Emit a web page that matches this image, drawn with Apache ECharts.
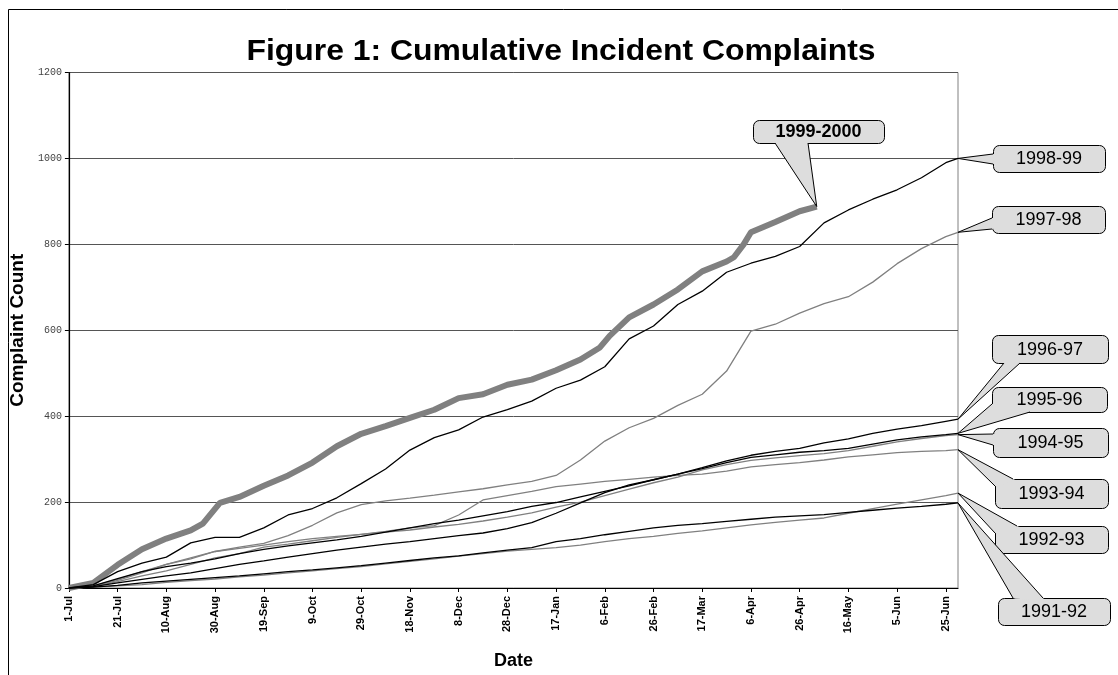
<!DOCTYPE html>
<html>
<head>
<meta charset="utf-8">
<title>Cumulative Incident Complaints</title>
<script src="https://cdn.jsdelivr.net/npm/echarts@6.0.0/dist/echarts.min.js"></script>
<style>
  html, body { margin: 0; padding: 0; background: #fff; overflow: hidden; }
  #chart { width: 1118px; height: 675px; }
</style>
</head>
<body>
<div id="chart"></div>
<script>
// day number counted from 1 July
var days = [0, 10, 20, 30, 40, 50, 60, 70, 80, 90, 100, 110, 120, 130, 140, 150, 160, 170, 180, 190,
    200, 210, 220, 230, 240, 250, 260, 270, 280, 290, 300, 310, 320, 330, 340, 350, 360, 365];

var tickLabels = ['1-Jul', '21-Jul', '10-Aug', '30-Aug', '19-Sep', '9-Oct', '29-Oct', '18-Nov', '8-Dec', '28-Dec',
    '17-Jan', '6-Feb', '26-Feb', '17-Mar', '6-Apr', '26-Apr', '16-May', '5-Jun', '25-Jun'];

// 1999-2000 stops part way through the year, so it has its own days
var days9900 = [0, 10, 20, 30, 40, 50, 55, 62, 70, 80, 90, 100, 110, 120, 130, 140, 150, 160, 170, 180,
    190, 200, 210, 218, 222, 230, 240, 250, 260, 270, 273, 277, 280, 290, 300, 307];
var s9900 = [0, 12, 54, 90, 115, 134, 150, 198, 212, 238, 262, 292, 330, 359, 377, 396, 415, 442, 451, 473,
    485, 507, 532, 560, 587, 630, 660, 695, 737, 760, 770, 800, 828, 852, 877, 888];

var s9899 = [0, 8, 38, 58, 72, 105, 118, 118, 140, 170, 185, 210, 243, 277, 321, 350, 368, 398, 415, 435,
    465, 484, 515, 580, 610, 660, 691, 735, 756, 772, 795, 850, 880, 905, 927, 955, 990, 1000];
var s9798 = [0, 5, 20, 38, 55, 68, 85, 95, 104, 122, 146, 175, 194, 203, 209, 216, 224, 231, 240, 248,
    262, 298, 342, 373, 395, 425, 451, 505, 598, 614, 640, 662, 678, 712, 755, 790, 818, 828];
var s9697 = [0, 5, 22, 38, 50, 58, 68, 80, 90, 98, 105, 112, 120, 130, 140, 150, 158, 168, 178, 190,
    199, 212, 225, 238, 252, 265, 280, 296, 309, 318, 325, 338, 347, 360, 370, 378, 388, 393];
var s9596 = [0, 3, 12, 20, 28, 35, 45, 55, 63, 72, 80, 88, 95, 102, 108, 115, 122, 128, 138, 152,
    174, 198, 222, 240, 252, 265, 278, 292, 304, 310, 316, 320, 325, 335, 345, 352, 357, 360];
var s9495 = [0, 4, 18, 35, 55, 70, 85, 92, 100, 108, 115, 120, 125, 130, 135, 142, 148, 156, 165, 175,
    188, 200, 215, 230, 245, 258, 275, 287, 297, 303, 308, 313, 320, 330, 340, 348, 355, 357];
var s9394 = [0, 3, 15, 28, 40, 55, 70, 80, 95, 102, 110, 118, 125, 132, 140, 145, 170, 205, 215, 225,
    236, 242, 248, 253, 258, 262, 265, 272, 282, 287, 292, 298, 305, 310, 315, 318, 320, 322];
var s9293 = [0, 2, 5, 8, 13, 17, 21, 26, 30, 35, 40, 45, 50, 56, 62, 68, 74, 80, 86, 90,
    94, 100, 108, 115, 120, 127, 133, 140, 147, 153, 158, 163, 174, 185, 195, 205, 215, 221];
var s9192 = [0, 2, 6, 12, 16, 20, 24, 28, 33, 38, 42, 47, 52, 58, 64, 70, 75, 82, 88, 94,
    108, 115, 124, 132, 140, 146, 150, 155, 160, 165, 168, 171, 176, 181, 186, 190, 195, 198];

var FONT = 'Liberation Sans';
var GRAY = '#808080';

function pairs(xs, ys) {
    return xs.map(function (x, i) { return [x, ys[i]]; });
}

function line(name, xs, ys, color, width) {
    return {
        name: name,
        type: 'line',
        data: pairs(xs, ys),
        symbol: 'none',
        lineStyle: { color: color, width: width },
        z: color === GRAY ? 2 : 3
    };
}

var chart = echarts.init(document.getElementById('chart'));

chart.setOption({
    animation: false,
    backgroundColor: '#fff',
    grid: {
        left: 68, right: 160, top: 72.5, bottom: 82.5,
        show: true, borderColor: '#808080', borderWidth: 1, backgroundColor: 'transparent'
    },
    xAxis: {
        type: 'value',
        min: 0, max: 365, interval: 20,
        name: 'Date',
        nameLocation: 'middle',
        nameGap: 64,
        nameTextStyle: { fontFamily: FONT, fontWeight: 'bold', fontSize: 18, color: '#000' },
        axisLine: { lineStyle: { color: '#000', width: 1.2 } },
        axisTick: { show: true, length: 4, inside: false, lineStyle: { color: '#000' } },
        splitLine: { show: false },
        axisLabel: {
            rotate: 90,
            margin: 8,
            showMaxLabel: false,
            fontFamily: FONT, fontWeight: 'bold', fontSize: 11, color: '#000',
            formatter: function (v) {
                return tickLabels[Math.round(v / 20)] || '';
            }
        }
    },
    yAxis: {
        type: 'value',
        min: 0, max: 1200, interval: 200,
        name: 'Complaint Count',
        nameLocation: 'middle',
        nameRotate: 90,
        nameGap: 35,
        nameTextStyle: { fontFamily: FONT, fontWeight: 'bold', fontSize: 19, color: '#000' },
        axisLine: { show: true, lineStyle: { color: '#000', width: 1.2 } },
        axisTick: { show: true, length: 4, lineStyle: { color: '#000' } },
        splitLine: { lineStyle: { color: '#555', width: 1 } },
        axisLabel: {
            margin: 7, fontFamily: 'Liberation Mono', fontSize: 10, color: '#444',
            formatter: function (v) { return String(v); }
        }
    },
    series: [
        line('1999-2000', days9900, s9900, GRAY, 6),
        line('1998-99', days, s9899, '#000', 1.3),
        line('1997-98', days, s9798, GRAY, 1.3),
        line('1996-97', days, s9697, '#000', 1.3),
        line('1995-96', days, s9596, '#000', 1.3),
        line('1994-95', days, s9495, GRAY, 1.3),
        line('1993-94', days, s9394, GRAY, 1.3),
        line('1992-93', days, s9293, GRAY, 1.3),
        line('1991-92', days, s9192, '#000', 1.3)
    ]
});

// callout boxes: box is [x, y, w, h], base is where the pointer meets the box
var callouts = [
    { name: '1999-2000', end: [307, 888], box: [753, 120, 131, 23], base: [[775, 143], [808, 143]], bold: true },
    { name: '1998-99', end: [365, 1000], box: [993, 145, 112, 27], base: [[993, 154], [993, 164]] },
    { name: '1997-98', end: [365, 828], box: [992, 206, 113, 27], base: [[992, 218], [992, 229]] },
    { name: '1996-97', end: [365, 393], box: [992, 335, 116, 28], base: [[1004, 363], [1020, 363]] },
    { name: '1995-96', end: [365, 360], box: [992, 387, 115, 25], base: [[992, 404], [1030, 412]] },
    { name: '1994-95', end: [365, 357], box: [993, 428, 115, 29], base: [[993, 434], [993, 445]] },
    { name: '1993-94', end: [365, 322], box: [995, 479, 113, 29], base: [[995, 486], [1013, 479]] },
    { name: '1992-93', end: [365, 221], box: [995, 526, 113, 27], base: [[995, 533], [1017, 526]] },
    { name: '1991-92', end: [365, 198], box: [998, 598, 112, 27], base: [[1013, 598], [1043, 598]] }
];

function inward(p, box) {
    var cx = box[0] + box[2] / 2, cy = box[1] + box[3] / 2;
    var dx = cx - p[0], dy = cy - p[1];
    var len = Math.sqrt(dx * dx + dy * dy);
    return [p[0] + dx / len * 2.5, p[1] + dy / len * 2.5];
}

var graphics = [
    {
        type: 'rect', silent: true, z: 0,
        shape: { x: 8.5, y: 9.5, width: 1300, height: 900 },
        style: { fill: 'none', stroke: '#000', lineWidth: 1 }
    },
    {
        type: 'text', silent: true, z: 10,
        x: 561, y: 52, scaleX: 1.1,
        style: {
            text: 'Figure 1: Cumulative Incident Complaints',
            font: 'bold 29px "Liberation Sans"',
            fill: '#000', align: 'center', verticalAlign: 'middle'
        }
    }
];

callouts.forEach(function (c) {
    var tip = chart.convertToPixel({ xAxisIndex: 0, yAxisIndex: 0 }, c.end);
    var b1 = c.base[0], b2 = c.base[1];
    graphics.push({
        type: 'rect', silent: true, z: 20,
        shape: { x: c.box[0] + 0.5, y: c.box[1] + 0.5, width: c.box[2], height: c.box[3], r: 6 },
        style: { fill: '#dddddd', stroke: '#000', lineWidth: 1 }
    });
    graphics.push({
        type: 'polygon', silent: true, z: 21,
        shape: { points: [tip, b1, inward(b1, c.box), inward(b2, c.box), b2] },
        style: { fill: '#dddddd', stroke: null }
    });
    graphics.push({
        type: 'polyline', silent: true, z: 22,
        shape: { points: [b1, tip, b2] },
        style: { stroke: '#000', lineWidth: 1, fill: null }
    });
    graphics.push({
        type: 'text', silent: true, z: 23,
        x: c.box[0] + c.box[2] / 2, y: c.box[1] + c.box[3] / 2 + 1,
        style: {
            text: c.name,
            font: (c.bold ? 'bold ' : '') + '18px "Liberation Sans"',
            fill: '#000', align: 'center', verticalAlign: 'middle'
        }
    });
});

chart.setOption({ graphic: graphics });
</script>
</body>
</html>
